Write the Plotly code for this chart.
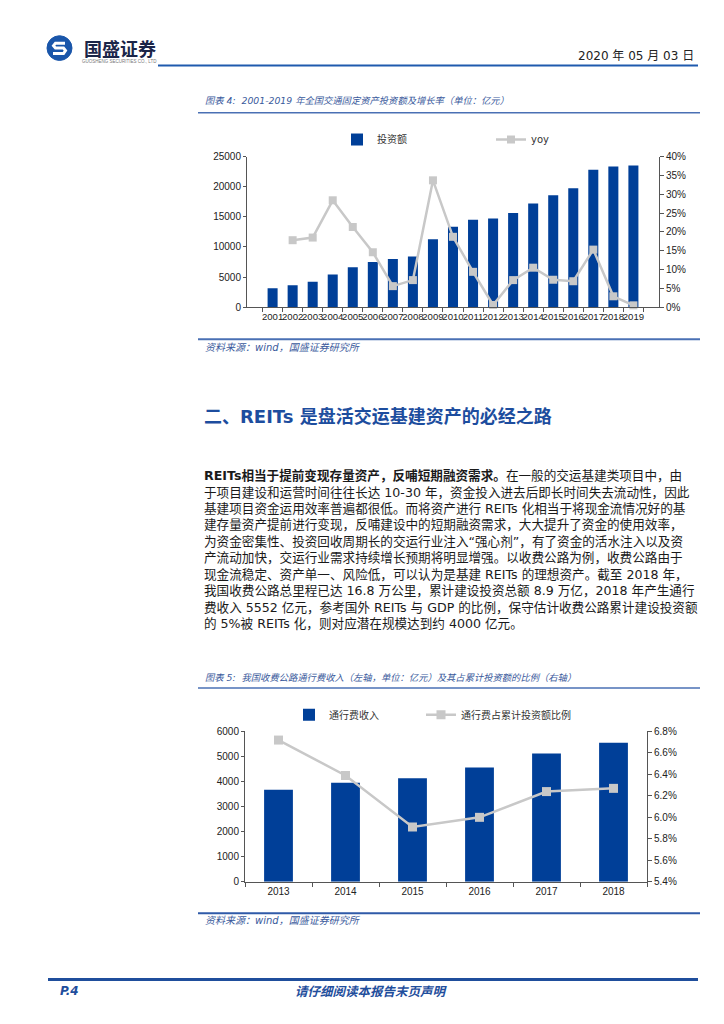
import plotly.graph_objects as go

W, H = 724, 1024


def px(x):
    return x / W


def py(y):
    return 1 - y / H


# ---------------- data ----------------
years1 = ["2001", "2002", "2003", "2004", "2005", "2006", "2007", "2008", "2009", "2010",
          "2011", "2012", "2013", "2014", "2015", "2016", "2017", "2018", "2019"]
invest = [3170, 3660, 4210, 5420, 6620, 7490, 7990, 8420, 11270, 13350,
          14500, 14720, 15650, 17230, 18600, 19750, 22810, 23360, 23520]
yoy = [None, 0.178, 0.185, 0.284, 0.213, 0.146, 0.056, 0.072, 0.337, 0.187,
       0.094, 0.006, 0.072, 0.105, 0.073, 0.069, 0.153, 0.029, 0.005]

years2 = ["2013", "2014", "2015", "2016", "2017", "2018"]
toll = [3670, 3950, 4130, 4560, 5120, 5552]
ratio = [0.0672, 0.0639, 0.0591, 0.0600, 0.0624, 0.0627]

BAR = "#003f98"
GREY = "#c8c8c8"
BLUE = "#1f4e9c"
CAP = "#3a5a9c"
CJK = "Noto Sans CJK SC"
NUM = "Liberation Sans"
TXT = "DejaVu Sans, Noto Sans CJK SC"

fig = go.Figure()

fig.add_trace(go.Bar(x=years1, y=invest, name="投资额", marker=dict(color=BAR, line=dict(width=0)),
                     width=0.5, xaxis="x", yaxis="y", legend="legend"))
fig.add_trace(go.Scatter(x=years1, y=yoy, name="yoy", mode="lines+markers",
                         line=dict(color=GREY, width=2.5),
                         marker=dict(symbol="square", size=8, color=GREY),
                         cliponaxis=False, xaxis="x", yaxis="y2", legend="legend",
                         legendwidth=40))

fig.add_trace(go.Bar(x=years2, y=toll, name="通行费收入", marker=dict(color=BAR, line=dict(width=0)),
                     width=0.43, xaxis="x2", yaxis="y3", legend="legend2"))
fig.add_trace(go.Scatter(x=years2, y=ratio, name="通行费占累计投资额比例", mode="lines+markers",
                         line=dict(color=GREY, width=2.5),
                         marker=dict(symbol="square", size=9, color=GREY),
                         cliponaxis=False, xaxis="x2", yaxis="y4", legend="legend2",
                         legendwidth=130))

axis_common = dict(showline=True, linecolor="#555555", linewidth=1, showgrid=False, zeroline=False,
                   ticks="outside", tickcolor="#555555")
tf = dict(family=NUM, size=10, color="#222222")

c1 = dict(l=239, r=651, t=144.3, b=296.7)
c2 = dict(l=237, r=639, t=726, b=878)

fig.update_layout(
    width=W, height=H, margin=dict(l=0, r=0, t=0, b=0),
    paper_bgcolor="white", plot_bgcolor="white",
    showlegend=True,
    xaxis=dict(domain=[px(c1["l"]), px(c1["r"])], anchor="y", type="category",
               tickson="boundaries", ticklen=4, tickangle=0,
               tickfont=dict(family=NUM, size=9.6, color="#222222"), **axis_common),
    yaxis=dict(domain=[py(c1["b"]), py(c1["t"])], anchor="x", range=[0, 25000], dtick=5000,
               tickformat="d", ticklen=3, tickfont=tf, **axis_common),
    yaxis2=dict(overlaying="y", side="right", anchor="x", range=[0, 0.40], dtick=0.05,
                tickformat=".0%", ticklen=4, tickfont=tf, **axis_common),
    xaxis2=dict(domain=[px(c2["l"]), px(c2["r"])], anchor="y3", type="category",
                tickson="boundaries", ticklen=4, tickangle=0, tickfont=tf, **axis_common),
    yaxis3=dict(domain=[py(c2["b"]), py(c2["t"])], anchor="x2", range=[0, 6000], dtick=1000,
                tickformat="d", ticklen=3, tickfont=tf, **axis_common),
    yaxis4=dict(overlaying="y3", side="right", anchor="x2", range=[0.054, 0.068], dtick=0.002,
                tickformat=".1%", ticklen=4, tickfont=tf, **axis_common),
    legend=dict(orientation="h", x=px(329), y=py(127), xanchor="left", yanchor="middle",
                entrywidth=109, entrywidthmode="pixels", bgcolor="rgba(0,0,0,0)",
                font=dict(family=TXT, size=10, color="#333333"), tracegroupgap=0),
    legend2=dict(orientation="h", x=px(281), y=py(709), xanchor="left", yanchor="middle",
                 entrywidth=87, entrywidthmode="pixels", bgcolor="rgba(0,0,0,0)",
                 font=dict(family=TXT, size=10, color="#333333"), tracegroupgap=0),
)

shapes = []


def hline(x0, x1, y, color, width):
    shapes.append(dict(type="line", xref="paper", yref="paper", x0=px(x0), x1=px(x1),
                       y0=py(y), y1=py(y), line=dict(color=color, width=width)))


hline(150, 690, 52, "#1f5aae", 2)
hline(190, 692, 100, "#4a70b4", 1.5)
hline(190, 692, 329, "#4a70b4", 2)
hline(190, 692, 682, "#4a70b4", 1.5)
hline(190, 692, 910, "#2f5aa8", 2)
hline(40, 690, 977, BLUE, 3)

# logo
shapes.append(dict(type="circle", xref="paper", yref="paper", x0=px(39), x1=px(64), y0=py(47), y1=py(22),
                   fillcolor="#1a56aa", line=dict(color="#1a56aa", width=1)))
pts = [(57, 29.5), (47.5, 29.5), (45.5, 32), (47.5, 34.5), (55.5, 34.5), (57.5, 37), (55.5, 40), (45, 40)]
path = "M " + " L ".join(f"{px(a):.5f},{py(b):.5f}" for a, b in pts)
shapes.append(dict(type="path", xref="paper", yref="paper", path=path,
                   line=dict(color="white", width=3)))

ann = []


def text(x, y, s, size, color="#222222", family=TXT, xanchor="left"):
    ann.append(dict(x=px(x), y=py(y), xref="paper", yref="paper", text=s, showarrow=False,
                    xanchor=xanchor, yanchor="middle", align="left",
                    font=dict(family=family, size=size, color=color)))


text(74, 34, "<b>国盛证券</b>", 18, "#1b2548", CJK)
text(111, 48, "GUOSHENG SECURITIES CO., LTD", 4.5, "#777777", NUM, "center")
text(688, 43, "2020 年 05 月 03 日", 12, "#222222", TXT, "right")

text(195, 88, "<i>图表 4:  2001-2019 年全国交通固定资产投资额及增长率（单位：亿元）</i>", 9.3, CAP, TXT)
text(195, 337, "<i>资料来源：wind，国盛证券研究所</i>", 10, CAP, TXT)

text(194, 407, "<b>二、REITs 是盘活交运基建资产的必经之路</b>", 18, "#1d4d9e", TXT)

para = [
    "<b>REITs相当于提前变现存量资产，反哺短期融资需求。</b>在一般的交运基建类项目中，由",
    "于项目建设和运营时间往往长达 10-30 年，资金投入进去后即长时间失去流动性，因此",
    "基建项目资金运用效率普遍都很低。而将资产进行 REITs 化相当于将现金流情况好的基",
    "建存量资产提前进行变现，反哺建设中的短期融资需求，大大提升了资金的使用效率，",
    "为资金密集性、投资回收周期长的交运行业注入“强心剂”，有了资金的活水注入以及资",
    "产流动加快，交运行业需求持续增长预期将明显增强。以收费公路为例，收费公路由于",
    "现金流稳定、资产单一、风险低，可以认为是基建 REITs 的理想资产。截至 2018 年，",
    "我国收费公路总里程已达 16.8 万公里，累计建设投资总额 8.9 万亿，2018 年产生通行",
    "费收入 5552 亿元，参考国外 REITs 与 GDP 的比例，保守估计收费公路累计建设投资额",
    "的 5%被 REITs 化，则对应潜在规模达到约 4000 亿元。",
]
for i, s in enumerate(para):
    text(194, 467 + i * 16.67, s, 12.6, "#1a1a1a", TXT)

text(195, 671, "<i>图表 5:  我国收费公路通行费收入（左轴，单位：亿元）及其占累计投资额的比例（右轴）</i>", 9.3, CAP, TXT)
text(195, 917, "<i>资料来源：wind，国盛证券研究所</i>", 10, CAP, TXT)

text(50, 989, "<b><i>P.4</i></b>", 12, BLUE, TXT)
text(363, 989, "<b><i>请仔细阅读本报告末页声明</i></b>", 12.5, BLUE, TXT, "center")

fig.update_layout(shapes=shapes, annotations=ann)

fig.write_html("out.html")
